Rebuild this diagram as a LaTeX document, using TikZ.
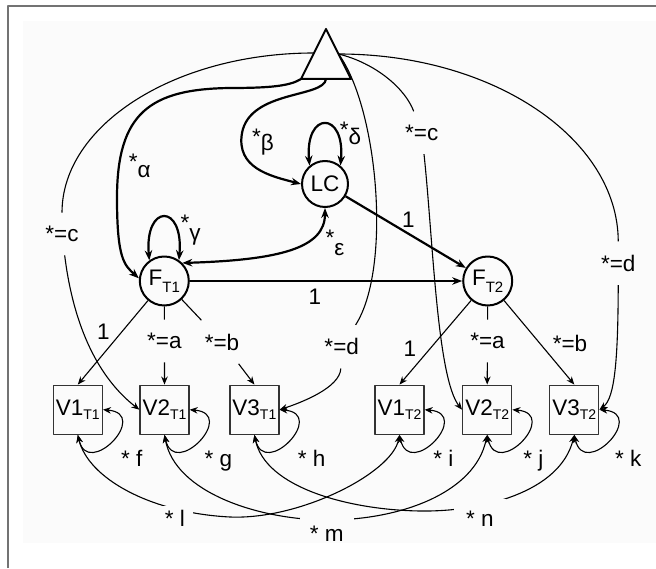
\documentclass[tikz,border=0pt]{standalone}
\usepackage{fontspec}
\setmainfont{Liberation Sans}
\usetikzlibrary{arrows.meta}
\definecolor{paper}{gray}{0.985}
\definecolor{framegray}{gray}{0.45}
\newcommand{\vsub}[1]{\raisebox{-4.5pt}{\fontsize{14}{14}\selectfont #1}}
\newcommand{\fsub}[1]{\raisebox{-7pt}{\fontsize{15}{15}\selectfont #1}}
\newcommand{\starsub}[2][8pt]{*\raisebox{-#1}{#2}}
\begin{document}
\begin{tikzpicture}[x=1pt, y=1pt, line width=1.1pt, line join=round, font={\fontsize{22.5pt}{26pt}\selectfont},
	>={Stealth[length=8pt,width=6.5pt]},
	latent/.style={circle, draw, line width=2pt, fill=paper, minimum size=49pt, inner sep=0pt},
	manifest/.style={rectangle, draw=black!80, line width=1.3pt, fill=paper, minimum width=49pt, minimum height=49pt, inner sep=0pt},
	cut/.style={fill=paper, inner xsep=4pt, inner ysep=13pt},
	lbl/.style={inner sep=1pt},
	bold/.style={line width=2.2pt, >={Stealth[length=10pt,width=7.5pt]}}]
	\useasboundingbox (0,0) rectangle (656,568);
	% paper and frame
	\fill[paper] (23,25) rectangle (656,547);
	\draw[framegray, line width=1.5pt] (8,0) -- (8,562) -- (656,562);
	% constant (triangle)
	\coordinate (apex) at (326,539);
	\coordinate (baseL) at (301,489);
	\coordinate (baseR) at (351,489);
	\coordinate (triB) at (326,489);
	\coordinate (triW) at (314,515);
	\coordinate (triE) at (338.5,514);
	\draw[line width=2pt, fill=paper] (apex) -- (baseL) -- (baseR) -- cycle;
	% latent factors
	\node[latent, minimum size=46pt] (lc) at (325,384) {LC};
	\node[latent] (ft1) at (164.3,287) {F\fsub{T1}};
	\node[latent] (ft2) at (487.7,287) {F\fsub{T2}};
	% indicators
	\foreach \nm/\x/\v/\t in {v1a/77.8/1/1, v2a/164.5/2/1, v3a/254.4/3/1, v1b/399.5/1/2, v2b/487.2/2/2, v3b/574.3/3/2}
	{\node[manifest] (\nm) at (\x,158.3) {V\v\vsub{T\t}};}
	% residual variances
	\foreach \nm in {v1a,v2a,v3a,v1b,v2b,v3b}
	{\draw[<->] (\nm.east) .. controls +(48,-4) and +(10,-45) .. (\nm.south);}
	\foreach \x/\l in {131.7/f, 218.3/g, 311.7/h, 443.3/i, 533.3/j, 628.3/k}
	{\node[lbl, anchor=base] (res\l) at (\x,101.3) {* \l};}
	% means and variances of the factors
	\draw[bold,->] (baseL) .. controls (290,482) and (270,480) .. (230,480) .. controls (150,479) and (117,455) .. (117,370) .. controls (117,310) and (124,303) .. (ft1.174);
	\draw[bold,->] (triB) .. controls (324,470) and (250,478) .. (242,435) .. controls (236,400) and (270,392) .. (lc.west);
	\draw[bold,<->] (lc.130) .. controls +(-5,55) and +(5,55) .. (lc.50);
	\draw[bold,<->] (ft1.126) .. controls +(-5,57) and +(5,57) .. (ft1.55);
	\draw[bold,<->] (ft1.45) .. controls (280,308) and (325,320) .. (lc.south);
	\draw[bold,->] (lc) -- (ft2);
	\draw[bold,->] (ft1) -- (ft2);
	\node (lalpha) at (139.8,402.5) {\starsub{α}};
	\node (lbeta) at (263,426) {\starsub[6.5pt]{β}};
	\node (ldelta) at (350.5,434.7) {\starsub[7pt]{δ}};
	\node (lgamma) at (190.6,337.8) {\starsub[9.5pt]{γ}};
	\node (leps) at (335,325.2) {\starsub[9.5pt]{ε}};
	\node (onelc) at (408.3,348) {1};
	\node (oneft) at (315,271.3) {1};
	% loadings
	\node[cut] (a1) at (164.4,227) {*=a};
	\node[cut] (b1) at (222,226) {*=b};
	\node[cut] (a2) at (487.5,227) {*=a};
	\draw[->] (ft1) -- (v1a.north);
	\draw (ft1) -- (a1);
	\draw[->] (a1) -- (v2a.north);
	\draw (ft1) -- (b1);
	\draw[->] (b1) -- (v3a.north);
	\draw[->] (ft2) -- (v1b.north);
	\draw (ft2) -- (a2);
	\draw[->] (a2) -- (v2b.north);
	\draw[->] (ft2) -- (v3b.north);
	\node (onea) at (103.3,236.3) {1};
	\node (oneb) at (410,219.7) {1};
	\node (b2) at (570,224.7) {*=b};
	% intercepts
	\node[cut] (cL) at (62,334) {*=c};
	\node[cut] (cR) at (421.7,435.3) {*=c};
	\node[cut] (dR) at (618.3,304.7) {*=d};
	\node[cut] (dM) at (341.7,221.3) {*=d};
	\draw (triW) .. controls (175,515) and (62,443) .. (cL);
	\draw[->] (cL) .. controls (75,230) and (105,185) .. (v2a.west);
	\draw (triE) .. controls (375,505) and (405,480) .. (cR);
	\draw[->] (cR) .. controls (433,330) and (437,190) .. (v2b.west);
	\draw (triE) .. controls (494,514) and (618,429) .. (dR);
	\draw[->] (dR) .. controls (618,210) and (615,170) .. (v3b.east);
	\draw (triE) .. controls (378,460) and (392,300) .. (dM);
	\draw[->] (dM) .. controls (340,180) and (300,165) .. (v3a.east);
	% covariances across time
	\draw[<->] (v1a.south) .. controls (88,90) and (150,55) .. (230,51) .. controls (300,48) and (392,95) .. (v1b.south);
	\draw[<->] (v2a.south) .. controls (175,75) and (260,48) .. (328,48) .. controls (400,48) and (475,75) .. (v2b.south);
	\draw[<->] (v3a.south) .. controls (265,80) and (350,58) .. (420,57) .. controls (480,56) and (560,75) .. (v3b.south);
	\node[lbl, fill=paper, inner xsep=8pt, inner ysep=4pt] (covl) at (175,49.7) {* l};
	\node[lbl, fill=paper, anchor=base, text height=22pt, inner xsep=10pt, inner ysep=1.5pt] (covm) at (326.7,26.7) {* m};
	\node[lbl, fill=paper, inner xsep=12pt, inner ysep=12pt] (covn) at (480,49.7) {* n};
\end{tikzpicture}
\end{document}
